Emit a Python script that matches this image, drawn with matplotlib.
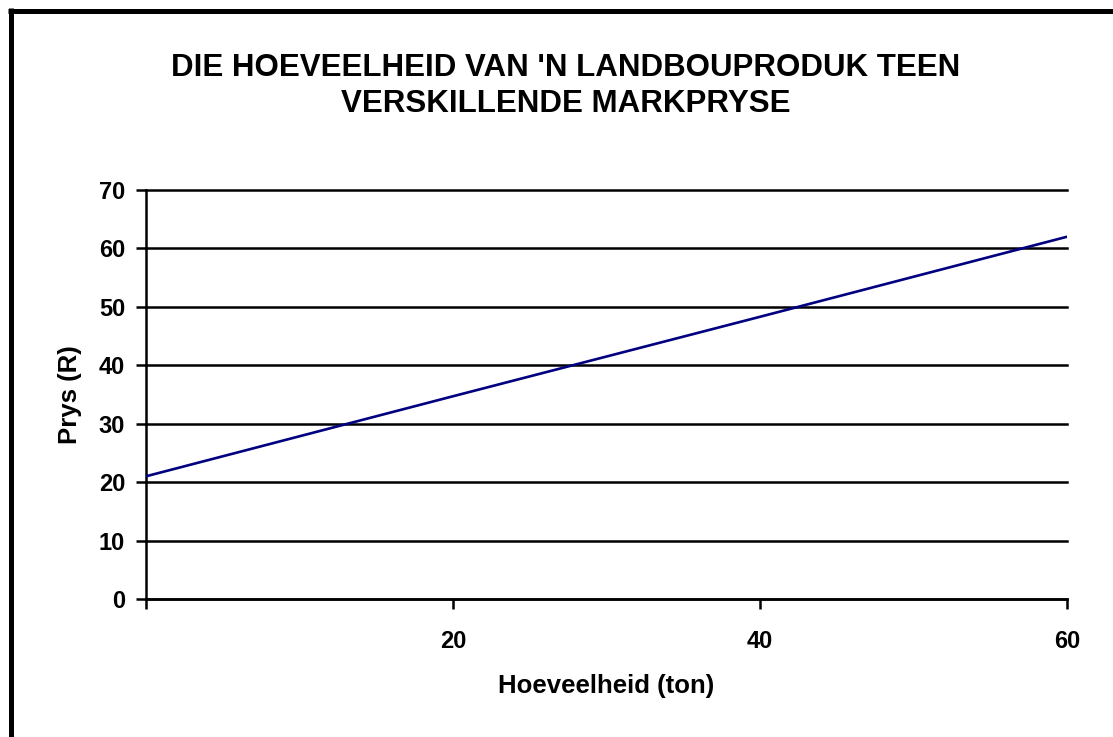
import matplotlib
matplotlib.use("Agg")
import matplotlib.pyplot as plt
from matplotlib.lines import Line2D

quantity = [0, 20, 40, 60]
price = [21, 34.7, 48.3, 62]
x_ticks = [0, 20, 40, 60]
x_ticklabels = ["", "20", "40", "60"]
y_ticks = [0, 10, 20, 30, 40, 50, 60, 70]

title = "DIE HOEVEELHEID VAN 'N LANDBOUPRODUK TEEN\nVERSKILLENDE MARKPRYSE"
xlabel = "Hoeveelheid (ton)"
ylabel = "Prys (R)"

plt.rcParams['font.family'] = ['Liberation Sans', 'DejaVu Sans']
plt.rcParams['font.weight'] = 'bold'

W, H = 1113, 737
fig = plt.figure(figsize=(W/100, H/100), dpi=100)
ax = fig.add_axes([146/W, 1-599/H, (1067-146)/W, (599-190)/H])

ax.plot(quantity, price, color='#000080', lw=1.9, zorder=3)
ax.set_xlim(0, 60)
ax.set_ylim(0, 70)
ax.set_xticks(x_ticks)
ax.set_xticklabels(x_ticklabels)
ax.set_yticks(y_ticks)
ax.yaxis.grid(True, color='black', lw=1.8)
ax.set_axisbelow(True)
for gl in ax.get_ygridlines():
    gl.set_clip_on(False)
for s in ['top', 'right']:
    ax.spines[s].set_visible(False)
for s in ['left', 'bottom']:
    ax.spines[s].set_linewidth(1.8)
ax.tick_params(axis='both', direction='out', length=7, width=1.8, labelsize=17, colors='black')
ax.tick_params(axis='x', pad=15)
ax.tick_params(axis='y', pad=8)
for lbl in ax.get_xticklabels() + ax.get_yticklabels():
    lbl.set_fontweight('bold')

ax.set_xlabel(xlabel, fontsize=18.5, fontweight='bold', va='center')
ax.xaxis.set_label_coords(0.5, (599-686)/409)
ax.set_ylabel(ylabel, fontsize=18.5, fontweight='bold', va='center')
ax.yaxis.set_label_coords((70-146)/921, 0.5)

fig.text(566/W, 1-86/H, title, ha='center', va='center', fontsize=22.5,
         fontweight='bold', linespacing=1.3)

# Thick frame (top and left)
fig.add_artist(Line2D([10.5/W, 10.5/W], [0, 1-8/H], transform=fig.transFigure,
                      color='black', lw=3.6, solid_capstyle='butt'))
fig.add_artist(Line2D([8/W, 1], [1-10.5/H, 1-10.5/H], transform=fig.transFigure,
                      color='black', lw=3.6, solid_capstyle='butt'))

fig.savefig("out.png", dpi=100)
